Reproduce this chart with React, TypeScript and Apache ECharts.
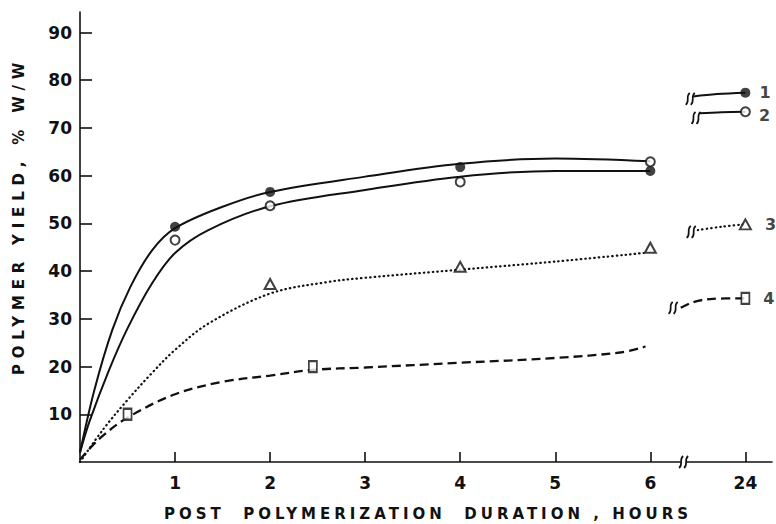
import React, { useEffect, useRef } from "react";
import * as echarts from "echarts";

// ---- axis ticks (x axis is broken: the position 7 carries the 24 h reading) ----
const xTickPositions = [1, 2, 3, 4, 5, 6, 7];
const xTickLabels = ["1", "2", "3", "4", "5", "6", "24"];
const yTickValues = [10, 20, 30, 40, 50, 60, 70, 80, 90];
const xTitle = "POST  POLYMERIZATION  DURATION , HOURS";
const yTitle = "POLYMER YIELD, % W/W";

// ---- fitted curves (x in axis positions, y in % w/w) ----
const curve1 = [
  [0, 2], [0.15, 15], [0.34, 27.7], [0.53, 36.7], [0.76, 44.4], [1, 49],
  [1.5, 53.5], [2, 56.6], [3, 59.8], [4, 62.5], [5, 63.6], [6, 63],
];
const curve2 = [
  [0, 2], [0.1, 8.5], [0.3, 19], [0.5, 28], [0.76, 37.5], [1, 43.8],
  [1.35, 48.6], [2, 53.6], [3, 57], [4, 59.8], [5, 61], [6, 61],
];
const curve3 = [
  [0, 0], [0.25, 7], [0.5, 13], [0.75, 18.5], [1, 23.5], [1.35, 29],
  [2, 35.3], [2.6, 37.7], [3, 38.6], [4, 40.3], [5, 42], [5.93, 43.8],
];
const curve4 = [
  [0, 0.5], [0.2, 4.8], [0.5, 9.3], [1, 14.2], [1.5, 16.8], [2, 18.1],
  [2.45, 19.3], [3, 19.8], [4, 20.8], [5, 21.8], [5.7, 23], [5.95, 24.2],
];

// ---- short segments after the break, ending at the 24 h readings ----
const seg1 = [[6.45, 76.6], [6.7, 77.1], [7, 77.4]];
const seg2 = [[6.52, 73.1], [6.75, 73.3], [7, 73.4]];
const seg3 = [[6.5, 48.6], [6.75, 49.3], [7, 49.8]];
const seg4 = [[6.32, 32.3], [6.45, 33.5], [6.66, 34.2], [7, 34.3]];

// ---- measured points ----
const filledCircle = [[1, 49.3], [2, 56.6], [4, 61.8], [6, 61]];
const openCircle = [[1, 46.5], [2, 53.7], [4, 58.7], [6, 62.9]];
const triangles = [[2, 37.3], [4, 40.9], [6, 44.9]];
const squares = [[0.5, 10], [2.45, 20]];
const at24 = { filled: 77.4, open: 73.4, triangle: 49.8, square: 34.3 };
const curveLabels = ["1", "2", "3", "4"];

// ---- break marks: [x, y, kind] kind 0 = on a curve, 1 = on the x axis ----
const breakMarks = [
  [6.42, 76.1, 0],
  [6.48, 72.1, 0],
  [6.43, 48.2, 0],
  [6.24, 32.3, 0],
  [6.35, 0, 1],
];

const FONT = "DejaVu Sans";
const BLACK = "#111";

export default function App() {
  const ref = useRef<HTMLDivElement>(null);

  useEffect(() => {
    if (!ref.current) return;
    const chart = echarts.init(ref.current, undefined, { renderer: "svg" });

    const labelStyle = (txt: string, dist: number, dy: number) => ({
      show: true,
      formatter: txt,
      position: "right",
      distance: dist,
      offset: [0, dy],
      color: BLACK,
      fontFamily: FONT,
      fontWeight: "bold",
      fontSize: 16,
    });

    const lineBase = {
      type: "line",
      showSymbol: false,
      symbol: "none",
      smooth: 0.35,
      silent: true,
      z: 2,
    };

    const option: any = {
      animation: false,
      backgroundColor: "#fff",
      grid: { left: 80, right: 4, top: 12, bottom: 62, outerBoundsMode: "none" },
      graphic: [
        {
          type: "text",
          x: 428,
          y: 514,
          silent: true,
          style: {
            text: xTitle,
            fill: BLACK,
            font: `bold 15px "${FONT}"`,
            align: "center",
            verticalAlign: "middle",
          },
        },
        {
          type: "text",
          x: 19,
          y: 216,
          rotation: Math.PI / 2,
          silent: true,
          style: {
            text: yTitle,
            fill: BLACK,
            font: `bold 15px "${FONT}"`,
            align: "center",
            verticalAlign: "middle",
          },
        },
      ],
      xAxis: {
        type: "value",
        min: 0,
        max: 7.28,
        interval: 1,
        axisLine: { lineStyle: { color: BLACK, width: 1.6 } },
        axisTick: {
          inside: true,
          length: 10,
          customValues: xTickPositions,
          lineStyle: { color: BLACK, width: 1.6 },
        },
        axisLabel: {
          formatter: (v: number) => {
            const i = xTickPositions.indexOf(v);
            return i >= 0 ? xTickLabels[i] : "";
          },
          margin: 12,
          color: BLACK,
          fontFamily: FONT,
          fontWeight: "bold",
          fontSize: 17,
        },
        splitLine: { show: false },
      },
      yAxis: {
        type: "value",
        min: 0,
        max: 94.3,
        axisLine: { show: true, lineStyle: { color: BLACK, width: 1.6 } },
        axisTick: {
          show: true,
          inside: true,
          length: 12,
          customValues: yTickValues,
          lineStyle: { color: BLACK, width: 1.6 },
        },
        axisLabel: {
          customValues: yTickValues,
          margin: 8,
          color: BLACK,
          fontFamily: FONT,
          fontWeight: "bold",
          fontSize: 17,
        },
        splitLine: { show: false },
      },
      series: [
        { ...lineBase, data: curve1, lineStyle: { color: BLACK, width: 2 } },
        { ...lineBase, data: curve2, lineStyle: { color: BLACK, width: 2 } },
        {
          ...lineBase,
          data: curve3,
          lineStyle: { color: BLACK, width: 2.2, type: [0.5, 4], cap: "round" },
        },
        {
          ...lineBase,
          data: curve4,
          lineStyle: { color: BLACK, width: 2.3, type: [9, 5] },
        },
        { ...lineBase, data: seg1, lineStyle: { color: BLACK, width: 2 } },
        { ...lineBase, data: seg2, lineStyle: { color: BLACK, width: 2 } },
        {
          ...lineBase,
          data: seg3,
          lineStyle: { color: BLACK, width: 2.2, type: [0.5, 4], cap: "round" },
        },
        {
          ...lineBase,
          data: seg4,
          lineStyle: { color: BLACK, width: 2.3, type: [9, 5] },
        },
        {
          type: "scatter",
          symbol: "circle",
          symbolSize: 10,
          itemStyle: { color: BLACK },
          z: 4,
          data: [
            ...filledCircle,
            { value: [7, at24.filled], label: labelStyle(curveLabels[0], 9, 0) },
          ],
        },
        {
          type: "scatter",
          symbol: "circle",
          symbolSize: 9,
          itemStyle: { color: "#fff", borderColor: BLACK, borderWidth: 2 },
          z: 4,
          data: [
            ...openCircle,
            { value: [7, at24.open], label: labelStyle(curveLabels[1], 8, 4) },
          ],
        },
        {
          type: "scatter",
          symbol: "triangle",
          symbolSize: [11, 10],
          itemStyle: { color: "#fff", borderColor: BLACK, borderWidth: 2 },
          z: 4,
          data: [
            ...triangles,
            { value: [7, at24.triangle], label: labelStyle(curveLabels[2], 13, 0) },
          ],
        },
        {
          type: "scatter",
          symbol: "rect",
          symbolSize: [8, 11],
          itemStyle: { color: "#fff", borderColor: BLACK, borderWidth: 2 },
          z: 4,
          data: [
            ...squares,
            { value: [7, at24.square], label: labelStyle(curveLabels[3], 13, 0) },
          ],
        },
        {
          type: "custom",
          coordinateSystem: "cartesian2d",
          clip: false,
          silent: true,
          z: 5,
          data: breakMarks,
          renderItem: (_p: any, api: any) => {
            const c = api.coord([api.value(0), api.value(1)]);
            const kind = api.value(2);
            const h = 6;
            const mk = (dx: number) => ({
              type: "bezierCurve",
              shape: {
                x1: c[0] + dx + 2,
                y1: c[1] - h,
                cpx1: c[0] + dx - 2.5,
                cpy1: c[1] - 2,
                cpx2: c[0] + dx + 2.5,
                cpy2: c[1] + 2,
                x2: c[0] + dx - 2,
                y2: c[1] + h,
              },
              style: { stroke: BLACK, lineWidth: 1.7, fill: null },
            });
            const children: any[] = [];
            if (kind === 1) {
              children.push({
                type: "rect",
                shape: { x: c[0] - 3, y: c[1] - 1.5, width: 6, height: 3 },
                style: { fill: "#fff" },
              });
            }
            children.push(mk(-2.5), mk(2.5));
            return { type: "group", children };
          },
        },
      ],
    };

    chart.setOption(option);

    const spacing = () => {
      const texts = ref.current?.querySelectorAll("text") || [];
      texts.forEach((t: any) => {
        const s = t.textContent || "";
        if (s === xTitle || s.indexOf("POST") >= 0) t.setAttribute("letter-spacing", "4px");
        if (s === yTitle || s.indexOf("POLYMER YIELD") >= 0) t.setAttribute("letter-spacing", "5.8px");
      });
    };
    spacing();
    chart.on("finished", spacing);

    return () => {
      chart.dispose();
    };
  }, []);

  return (
    <div
      ref={ref}
      style={{ position: "absolute", left: 0, top: 0, width: 776, height: 524 }}
    />
  );
}
